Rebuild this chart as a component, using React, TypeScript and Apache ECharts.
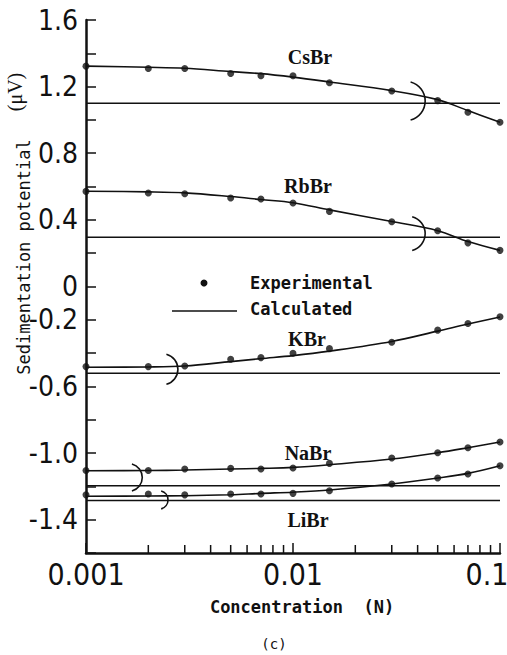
import React, { useEffect, useRef } from 'react';
import * as echarts from 'echarts';

// Concentration (N) of every measured point
const concentrations = [0.001, 0.002, 0.003, 0.005, 0.007, 0.01, 0.015, 0.03, 0.05, 0.07, 0.1];

// Experimental points (μV)
const csbrExp = [1.323, 1.309, 1.309, 1.279, 1.265, 1.265, 1.223, 1.174, 1.116, 1.046, 0.986];
const rbbrExp = [0.571, 0.561, 0.557, 0.531, 0.525, 0.501, 0.451, 0.389, 0.335, 0.262, 0.217];
const kbrExp = [-0.481, -0.481, -0.477, -0.437, -0.427, -0.401, -0.373, -0.335, -0.262, -0.222, -0.182];
const nabrExp = [-1.105, -1.105, -1.096, -1.092, -1.096, -1.09, -1.062, -1.03, -0.998, -0.968, -0.934];
const librExp = [-1.251, -1.246, -1.251, -1.246, -1.246, -1.242, -1.226, -1.186, -1.15, -1.126, -1.076];

// Smooth curves drawn through the experimental points
const csbrCurve = [1.323, 1.316, 1.31, 1.29, 1.278, 1.257, 1.228, 1.176, 1.122, 1.056, 0.986];
const rbbrCurve = [0.572, 0.568, 0.562, 0.54, 0.522, 0.503, 0.46, 0.39, 0.335, 0.27, 0.217];
const kbrCurve = [-0.485, -0.483, -0.477, -0.451, -0.433, -0.415, -0.388, -0.33, -0.268, -0.225, -0.183];
const nabrCurve = [-1.106, -1.105, -1.102, -1.096, -1.092, -1.086, -1.07, -1.036, -0.998, -0.968, -0.934];
const librCurve = [-1.259, -1.258, -1.256, -1.25, -1.242, -1.235, -1.222, -1.186, -1.15, -1.122, -1.076];

// Calculated (constant) values
const salts = ['CsBr', 'RbBr', 'KBr', 'NaBr', 'LiBr'];
const calculatedValues = [1.1, 0.296, -0.521, -1.196, -1.285];

// Validity brackets: concentration of the bracket's tip, top and bottom values
const bracketConc = [0.0435, 0.0435, 0.00278, 0.00187, 0.00249];
const bracketTop = [1.228, 0.419, -0.407, -1.066, -1.228];
const bracketBottom = [1.0, 0.216, -0.587, -1.228, -1.335];

// Axis ticks
const xRange = [0.001, 0.1];
const xTickLabels = ['0.001', '0.01', '0.1'];
const xMinorTicks = [0.002, 0.003, 0.004, 0.005, 0.006, 0.007, 0.008, 0.009, 0.02, 0.03, 0.04, 0.05, 0.06, 0.07, 0.08, 0.09];
const yRange = [-1.6, 1.6];
const yTickLabels = ['1.6', '1.2', '0.8', '0.4', '0', '-0.2', '-0.6', '-1.0', '-1.4'];

const expSeries = [csbrExp, rbbrExp, kbrExp, nabrExp, librExp];
const curveSeries = [csbrCurve, rbbrCurve, kbrCurve, nabrCurve, librCurve];

const INK = '#111';
const NARROW = "'DejaVu Sans Condensed', 'Liberation Sans Narrow', sans-serif";
const MONO = "'DejaVu Sans Mono', 'Liberation Mono', monospace";
const SERIF = "'Liberation Serif', 'DejaVu Serif', serif";

export default function App() {
  const ref = useRef<HTMLDivElement>(null);

  useEffect(() => {
    if (!ref.current) return;
    const chart = echarts.init(ref.current, undefined, { renderer: 'svg' });

    const series: any[] = [];
    salts.forEach((salt, i) => {
      series.push({
        name: 'Calculated',
        type: 'line',
        data: [
          [xRange[0], calculatedValues[i]],
          [xRange[1], calculatedValues[i]],
        ],
        symbol: 'none',
        lineStyle: { color: INK, width: 1.4 },
        z: 2,
      });
      series.push({
        name: salt + ' curve',
        type: 'line',
        smooth: 0.35,
        data: concentrations.map((c, j) => [c, curveSeries[i][j]]),
        symbol: 'none',
        lineStyle: { color: INK, width: 1.6 },
        z: 3,
      });
      series.push({
        name: 'Experimental',
        type: 'scatter',
        data: concentrations.map((c, j) => [c, expSeries[i][j]]),
        symbol: 'circle',
        symbolSize: 7,
        itemStyle: { color: INK },
        z: 4,
      });
    });

    // validity brackets ")"
    series.push({
      name: 'brackets',
      type: 'custom',
      data: bracketConc.map((c, i) => [c, bracketTop[i], bracketBottom[i]]),
      renderItem: (params: any, api: any) => {
        const c = api.value(0);
        const p = api.coord([c, api.value(1)]);
        const q = api.coord([c, api.value(2)]);
        const half = (q[1] - p[1]) / 2;
        const theta = (75 * Math.PI) / 180;
        const r = half / Math.sin(theta);
        return {
          type: 'arc',
          shape: { cx: p[0] - r, cy: p[1] + half, r, startAngle: -theta, endAngle: theta, clockwise: true },
          style: { stroke: INK, fill: 'none', lineWidth: 1.6 },
        };
      },
      z: 5,
    });

    // minor log ticks on the x axis
    series.push({
      name: 'minor ticks',
      type: 'custom',
      data: xMinorTicks.map((v) => [v, yRange[0]]),
      renderItem: (params: any, api: any) => {
        const p = api.coord([api.value(0), api.value(1)]);
        return {
          type: 'line',
          shape: { x1: p[0], y1: p[1], x2: p[0], y2: p[1] - 8 },
          style: { stroke: INK, lineWidth: 1.5 },
        };
      },
      z: 5,
    });

    const saltLabelPos = [
      [310, 57],
      [308, 186],
      [307, 339],
      [308, 453],
      [308, 520],
    ];

    chart.setOption({
      animation: false,
      backgroundColor: '#fff',
      grid: { left: 86, right: 7, top: 20, bottom: 102, containLabel: false, outerBoundsMode: 'none' },
      xAxis: {
        type: 'log',
        logBase: 10,
        min: xRange[0],
        max: xRange[1],
        axisLine: { show: true, onZero: false, lineStyle: { color: INK, width: 2.5 } },
        axisTick: { show: true, inside: true, length: 10, lineStyle: { color: INK, width: 1.5 } },
        splitLine: { show: false },
        minorTick: { show: false },
        axisLabel: {
          margin: 6,
          color: INK,
          fontFamily: NARROW,
          fontSize: 30,
          hideOverlap: false,
          formatter: (v: number) => {
            const k = Math.round(Math.log10(v)) + 3;
            const s = xTickLabels[k] ?? '';
            return k === xTickLabels.length - 1 ? `{last|${s}}` : s;
          },
          rich: {
            last: { fontFamily: NARROW, fontSize: 30, color: INK, padding: [0, 26, 0, 0] },
          },
        },
      },
      yAxis: {
        type: 'value',
        min: yRange[0],
        max: yRange[1],
        interval: 0.2,
        axisLine: { show: true, onZero: false, lineStyle: { color: INK, width: 2.5 } },
        axisTick: { show: true, inside: true, length: 10, lineStyle: { color: INK, width: 1.5 } },
        splitLine: { show: false },
        axisLabel: {
          margin: 8,
          color: INK,
          fontFamily: NARROW,
          fontSize: 28,
          formatter: (v: number) => {
            const s = yTickLabels.find((t) => Math.abs(parseFloat(t) - v) < 1e-6);
            return s ?? '';
          },
        },
      },
      graphic: [
        ...salts.map((s, i) => ({
          type: 'text',
          x: saltLabelPos[i][0],
          y: saltLabelPos[i][1],
          style: {
            text: s,
            font: `bold 20px ${SERIF}`,
            fill: INK,
            textAlign: 'center',
            textVerticalAlign: 'middle',
          },
        })),
        // legend
        { type: 'circle', shape: { cx: 204, cy: 283, r: 3.5 }, style: { fill: INK } },
        {
          type: 'text',
          x: 250,
          y: 283,
          style: { text: 'Experimental', font: `bold 17px ${MONO}`, fill: INK, textVerticalAlign: 'middle' },
        },
        { type: 'line', shape: { x1: 172, y1: 311, x2: 237, y2: 311 }, style: { stroke: INK, lineWidth: 1.4 } },
        {
          type: 'text',
          x: 250,
          y: 309,
          style: { text: 'Calculated', font: `bold 17px ${MONO}`, fill: INK, textVerticalAlign: 'middle' },
        },
        // axis titles
        {
          type: 'text',
          x: 24,
          y: 257,
          rotation: Math.PI / 2,
          style: {
            text: 'Sedimentation potential',
            font: `17px ${MONO}`,
            fill: INK,
            textAlign: 'center',
            textVerticalAlign: 'middle',
          },
        },
        {
          type: 'text',
          x: 15,
          y: 92,
          rotation: Math.PI / 2,
          style: {
            text: '(μV)',
            font: `20px ${SERIF}`,
            fill: INK,
            textAlign: 'center',
            textVerticalAlign: 'middle',
          },
        },
        {
          type: 'text',
          x: 302,
          y: 607,
          style: {
            text: 'Concentration  (N)',
            font: `bold 17px ${MONO}`,
            fill: INK,
            textAlign: 'center',
            textVerticalAlign: 'middle',
          },
        },
        {
          type: 'text',
          x: 274,
          y: 644,
          style: { text: '(c)', font: `14px ${MONO}`, fill: INK, textAlign: 'center', textVerticalAlign: 'middle' },
        },
      ],
      series,
    });

    return () => chart.dispose();
  }, []);

  return (
    <div
      ref={ref}
      style={{ position: 'fixed', left: 0, top: 0, width: 507, height: 655, background: '#fff' }}
    />
  );
}
